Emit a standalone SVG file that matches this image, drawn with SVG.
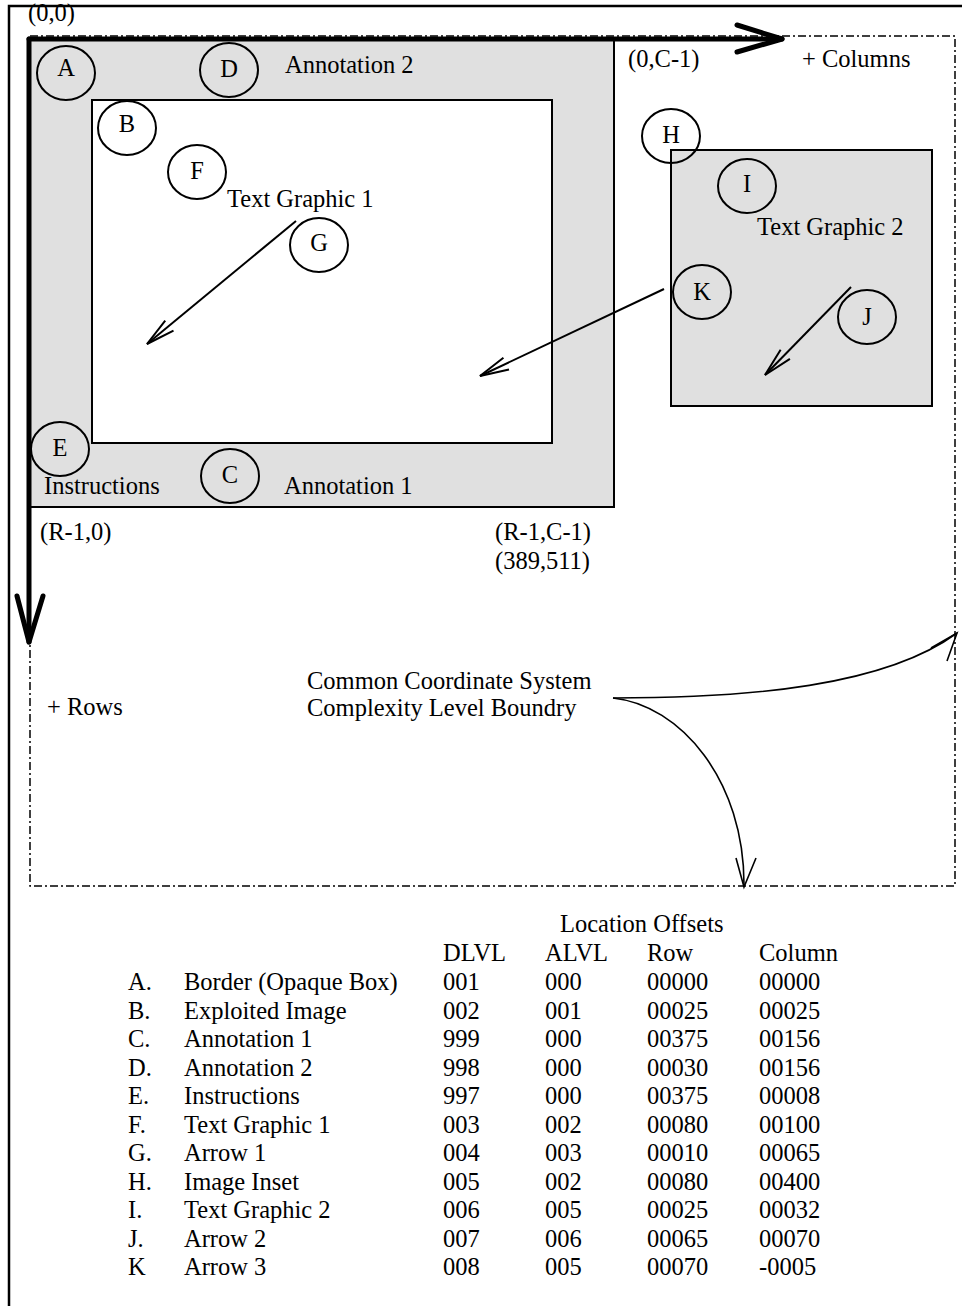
<svg xmlns="http://www.w3.org/2000/svg" width="962" height="1306" viewBox="0 0 962 1306">
<style>
text{font-family:"Liberation Serif","Times New Roman",serif;font-size:24.5px;fill:#000}
.c{fill:none;stroke:#000;stroke-width:2}
.lbl{text-anchor:middle}
.box{fill:#e0e0e0;stroke:#000;stroke-width:2}
.thin{fill:none;stroke:#000;stroke-width:1.6}
.arr{fill:none;stroke:#000;stroke-width:2;marker-end:url(#open)}
.axis{fill:none;stroke:#000;stroke-width:5;stroke-linecap:round;stroke-linejoin:round}
.bnd{fill:none;stroke:#000;stroke-width:1.5;stroke-dasharray:8 3 2 3}
</style>
<defs>
<marker id="open" markerUnits="userSpaceOnUse" markerWidth="40" markerHeight="20" refX="0" refY="0" viewBox="-32 -10 34 20" orient="auto" overflow="visible">
<path d="M-29,-6.5 L0,0 L-29,6.5" fill="none" stroke="#000" stroke-width="2"/>
</marker>
</defs>
<rect width="962" height="1306" fill="#fff"/>
<g id="frame">
<text x="28" y="21">(0,0)</text>
<path d="M9,1306 L9,6 L962,6" fill="none" stroke="#000" stroke-width="2.5"/>
</g>
<g id="boundary">
<rect class="bnd" x="30" y="36" width="925" height="850"/>
</g>
<g id="nodeA_border">
<rect class="box" x="29" y="39" width="585" height="468"/>
<ellipse class="c" cx="66" cy="73" rx="29" ry="27"/>
<text class="lbl" x="66" y="76">A</text>
</g>
<g id="nodeB_image">
<rect x="92" y="100" width="460" height="343" fill="#fff" stroke="#000" stroke-width="2"/>
<ellipse class="c" cx="127" cy="128" rx="29" ry="27"/>
<text class="lbl" x="127" y="132">B</text>
</g>
<g id="nodeC_annotation1">
<ellipse class="c" cx="230" cy="476" rx="29" ry="27"/>
<text class="lbl" x="230" y="483">C</text>
<text x="284" y="494">Annotation 1</text>
</g>
<g id="nodeD_annotation2">
<ellipse class="c" cx="229" cy="70" rx="29" ry="27"/>
<text class="lbl" x="229" y="77">D</text>
<text x="285" y="73">Annotation 2</text>
</g>
<g id="nodeE_instructions">
<ellipse class="c" cx="60" cy="449" rx="29" ry="27"/>
<text class="lbl" x="60" y="456">E</text>
<text x="44" y="494">Instructions</text>
</g>
<g id="nodeF_text1">
<ellipse class="c" cx="197" cy="172" rx="29" ry="27"/>
<text class="lbl" x="197" y="179">F</text>
<text x="227" y="207">Text Graphic 1</text>
</g>
<g id="nodeG_arrow1">
<ellipse class="c" cx="319" cy="245" rx="29" ry="27"/>
<text class="lbl" x="319" y="251">G</text>
</g>
<g id="nodeH_inset">
<rect class="box" x="671" y="150" width="261" height="256"/>
<ellipse class="c" cx="671" cy="136" rx="29" ry="27"/>
<text class="lbl" x="671" y="143">H</text>
</g>
<g id="nodeI_text2">
<ellipse class="c" cx="747" cy="186" rx="29" ry="27"/>
<text class="lbl" x="747" y="192">I</text>
<text x="757" y="235">Text Graphic 2</text>
</g>
<g id="nodeJ_arrow2">
<ellipse class="c" cx="867" cy="317" rx="29" ry="27"/>
<text class="lbl" x="867" y="325">J</text>
</g>
<g id="nodeK_arrow3">
<ellipse class="c" cx="702" cy="292" rx="29" ry="27"/>
<text class="lbl" x="702" y="300">K</text>
</g>
<g id="coords">
<text x="628" y="67">(0,C-1)</text>
<text x="802" y="67">+ Columns</text>
<text x="40" y="540">(R-1,0)</text>
<text x="495" y="540">(R-1,C-1)</text>
<text x="495" y="569">(389,511)</text>
<text x="47" y="715">+ Rows</text>
<text x="307" y="689">Common Coordinate System</text>
<text x="307" y="716">Complexity Level Boundry</text>
</g>
<g id="connectors">
<line class="arr" x1="296" y1="221" x2="147" y2="344"/>
<line class="arr" x1="851" y1="287" x2="765" y2="375"/>
<line class="arr" x1="664" y1="289" x2="480" y2="376"/>
<path class="thin" d="M613,698 C750,698 885,686 957,633"/>
<path class="thin" d="M931,648 L957,633 L947,661"/>
<path class="thin" d="M613,698 C680,705 745,780 744,887"/>
<path class="thin" d="M736,858 L744,887 L756,858"/>
<path class="axis" d="M29,39 L782,39"/>
<path class="axis" d="M737,25 L782,39 L737,52"/>
<path class="axis" d="M29,39 L29,642"/>
<path class="axis" d="M17,596 L29,642 L43,596"/>
</g>
<g id="table">
<text x="560" y="932">Location Offsets</text>
<text x="443" y="961">DLVL</text><text x="545" y="961">ALVL</text><text x="647" y="961">Row</text><text x="759" y="961">Column</text>
<text x="128" y="990">A.</text><text x="184" y="990">Border (Opaque Box)</text><text x="443" y="990">001</text><text x="545" y="990">000</text><text x="647" y="990">00000</text><text x="759" y="990">00000</text>
<text x="128" y="1018.5">B.</text><text x="184" y="1018.5">Exploited Image</text><text x="443" y="1018.5">002</text><text x="545" y="1018.5">001</text><text x="647" y="1018.5">00025</text><text x="759" y="1018.5">00025</text>
<text x="128" y="1047">C.</text><text x="184" y="1047">Annotation 1</text><text x="443" y="1047">999</text><text x="545" y="1047">000</text><text x="647" y="1047">00375</text><text x="759" y="1047">00156</text>
<text x="128" y="1075.5">D.</text><text x="184" y="1075.5">Annotation 2</text><text x="443" y="1075.5">998</text><text x="545" y="1075.5">000</text><text x="647" y="1075.5">00030</text><text x="759" y="1075.5">00156</text>
<text x="128" y="1104">E.</text><text x="184" y="1104">Instructions</text><text x="443" y="1104">997</text><text x="545" y="1104">000</text><text x="647" y="1104">00375</text><text x="759" y="1104">00008</text>
<text x="128" y="1132.5">F.</text><text x="184" y="1132.5">Text Graphic 1</text><text x="443" y="1132.5">003</text><text x="545" y="1132.5">002</text><text x="647" y="1132.5">00080</text><text x="759" y="1132.5">00100</text>
<text x="128" y="1161">G.</text><text x="184" y="1161">Arrow 1</text><text x="443" y="1161">004</text><text x="545" y="1161">003</text><text x="647" y="1161">00010</text><text x="759" y="1161">00065</text>
<text x="128" y="1189.5">H.</text><text x="184" y="1189.5">Image Inset</text><text x="443" y="1189.5">005</text><text x="545" y="1189.5">002</text><text x="647" y="1189.5">00080</text><text x="759" y="1189.5">00400</text>
<text x="128" y="1218">I.</text><text x="184" y="1218">Text Graphic 2</text><text x="443" y="1218">006</text><text x="545" y="1218">005</text><text x="647" y="1218">00025</text><text x="759" y="1218">00032</text>
<text x="128" y="1246.5">J.</text><text x="184" y="1246.5">Arrow 2</text><text x="443" y="1246.5">007</text><text x="545" y="1246.5">006</text><text x="647" y="1246.5">00065</text><text x="759" y="1246.5">00070</text>
<text x="128" y="1275">K</text><text x="184" y="1275">Arrow 3</text><text x="443" y="1275">008</text><text x="545" y="1275">005</text><text x="647" y="1275">00070</text><text x="759" y="1275">-0005</text>
</g>
</svg>
